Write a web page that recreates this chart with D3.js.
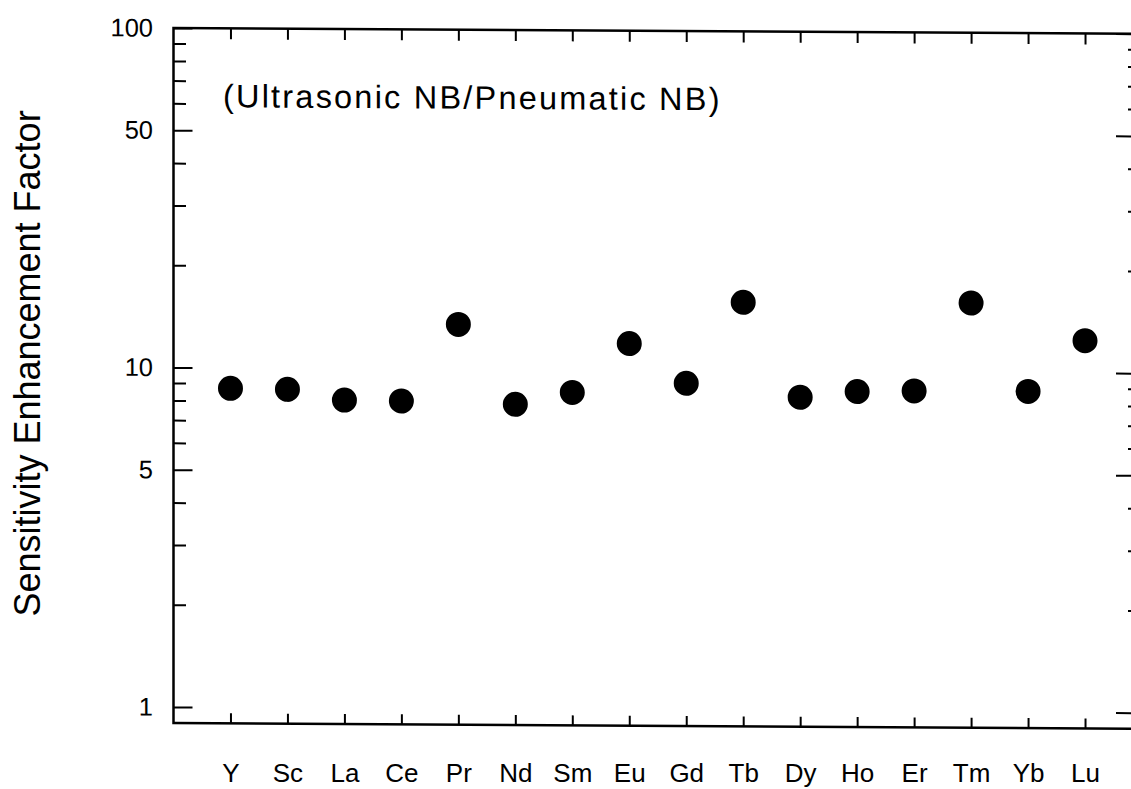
<!DOCTYPE html>
<html>
<head>
<meta charset="utf-8">
<script src="https://cdn.jsdelivr.net/npm/d3@7"></script>
<style>
  body { margin: 0; background: #fff; }
  text { font-family: "Liberation Sans", Arial, Helvetica, sans-serif; fill: #000; }
</style>
</head>
<body>
<script>
var elements = ["Y", "Sc", "La", "Ce", "Pr", "Nd", "Sm", "Eu", "Gd", "Tb", "Dy", "Ho", "Er", "Tm", "Yb", "Lu"];
var enhancement = [8.70, 8.66, 8.07, 8.04, 13.55, 7.90, 8.58, 11.98, 9.17, 15.92, 8.38, 8.73, 8.79, 15.99, 8.80, 12.44];
var yTickLabels = [1, 5, 10, 50, 100];
var yDomain = [0.897, 100];
var title = "(Ultrasonic NB/Pneumatic NB)";
var yTitle = "Sensitivity Enhancement Factor";

function drawChart() {
  var width = 1131;
  var height = 789;
  var left = 173.5, right = 1142, top = 28, bottom = 723;

  var svg = d3.select("body")
    .append("svg")
    .attr("width", width)
    .attr("height", height);

  var x = d3.scalePoint().domain(elements).range([left, right]).padding(1);
  var y = d3.scaleLog().domain(yDomain).range([bottom, top]);

  // the scanned original leans a little, its right side sits ~6px lower
  var g = svg.append("g")
    .attr("transform", "translate(" + left + ",0) skewY(0.34) translate(" + (-left) + ",0)");

  var allTicks = y.ticks().filter(function(d) { return d >= 1; });
  var minorTicks = allTicks.filter(function(d) { return yTickLabels.indexOf(d) < 0; });

  function styleAxis(sel) {
    sel.select(".domain").remove();
    sel.selectAll(".tick line").attr("stroke", "#000").attr("stroke-width", 2);
  }

  // left
  g.append("g")
    .attr("transform", "translate(" + left + ",0)")
    .call(d3.axisLeft(y).tickValues(minorTicks).tickSize(-12.5).tickFormat(""))
    .call(styleAxis);
  g.append("g")
    .attr("transform", "translate(" + left + ",0)")
    .call(d3.axisLeft(y).tickValues(yTickLabels).tickSize(-19).tickPadding(20.5).tickFormat(d3.format("d")))
    .call(styleAxis)
    .selectAll("text")
      .style("font-size", "25.5px")
      .attr("fill", "#000");

  // right
  g.append("g")
    .attr("transform", "translate(" + right + ",0)")
    .call(d3.axisRight(y).tickValues(minorTicks).tickSize(-14).tickFormat(""))
    .call(styleAxis);
  g.append("g")
    .attr("transform", "translate(" + right + ",0)")
    .call(d3.axisRight(y).tickValues(yTickLabels).tickSize(-26).tickFormat(""))
    .call(styleAxis);

  // top
  g.append("g")
    .attr("transform", "translate(0," + top + ")")
    .call(d3.axisTop(x).tickSize(-11).tickFormat(""))
    .call(styleAxis);

  // bottom ticks lean with the frame, the names stay level
  g.append("g")
    .attr("transform", "translate(0," + bottom + ")")
    .call(d3.axisBottom(x).tickSize(-10).tickFormat(""))
    .call(styleAxis);
  svg.append("g")
    .attr("transform", "translate(0," + bottom + ")")
    .call(d3.axisBottom(x).tickSize(0).tickPadding(41))
    .call(styleAxis)
    .selectAll("text")
      .style("font-size", "26px")
      .attr("fill", "#000");

  g.append("rect")
    .attr("x", left)
    .attr("y", top)
    .attr("width", right - left)
    .attr("height", bottom - top)
    .attr("fill", "none")
    .attr("stroke", "#000")
    .attr("stroke-width", 2.5);

  g.append("g")
    .selectAll("circle")
    .data(elements)
    .enter()
    .append("circle")
      .attr("cx", function(d) { return x(d); })
      .attr("cy", function(d, i) { return y(enhancement[i]); })
      .attr("r", 12.5)
      .attr("fill", "#000");

  g.append("text")
    .attr("x", 223)
    .attr("y", 107)
    .style("font-size", "32.5px")
    .style("letter-spacing", "2.2px")
    .text(title);

  svg.append("text")
    .attr("transform", "translate(40,363.5) rotate(-90)")
    .attr("text-anchor", "middle")
    .style("font-size", "36px")
    .text(yTitle);
}

drawChart();
</script>
</body>
</html>
